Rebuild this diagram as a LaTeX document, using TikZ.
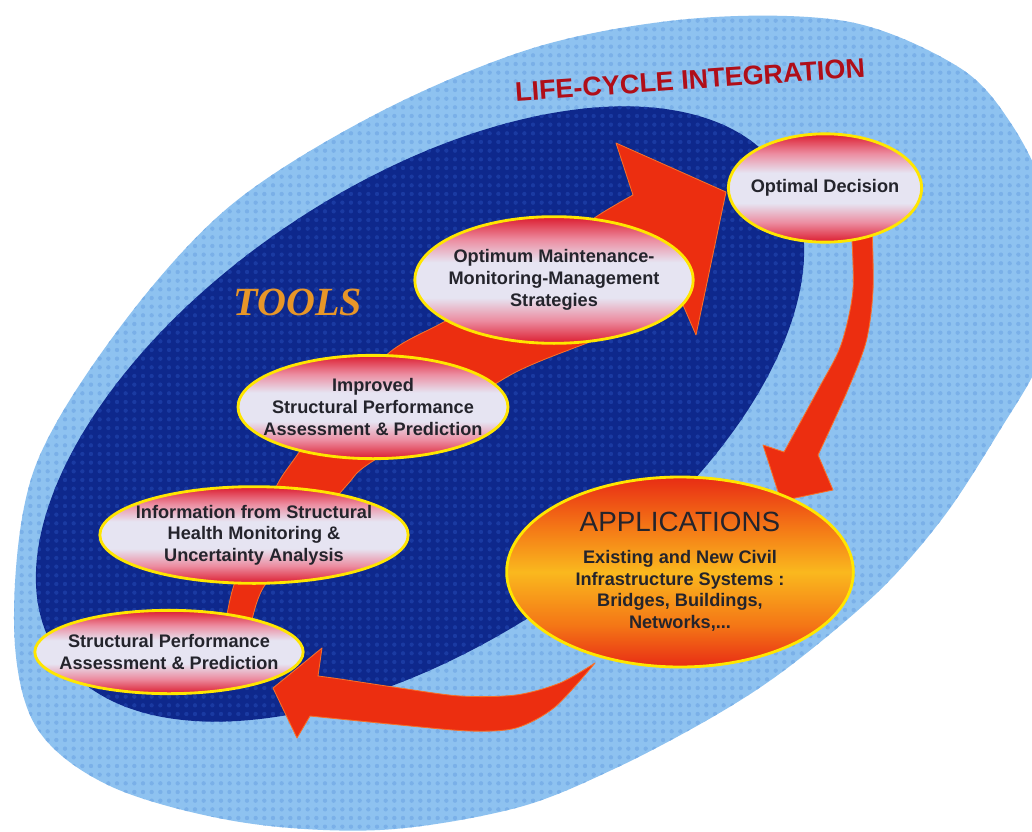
\documentclass[tikz,border=0pt]{standalone}
\usepackage{fontspec}
\setmainfont{Liberation Sans}
\newfontfamily\toolsfont{Liberation Serif}
\usepackage{xcolor}
\usepackage{tikz}
\usetikzlibrary{shapes.geometric,patterns}

\definecolor{skyblue}{RGB}{142,194,240}
\definecolor{skydot}{RGB}{122,176,232}
\definecolor{navyblue}{RGB}{14,40,140}
\definecolor{navydot}{RGB}{26,58,162}
\definecolor{arrowred}{RGB}{236,46,16}
\definecolor{arrowrim}{RGB}{248,112,40}
\definecolor{ovalred}{RGB}{220,28,46}
\definecolor{ovalpink}{RGB}{236,140,160}
\definecolor{ovalmid}{RGB}{230,228,242}
\definecolor{ovalrim}{RGB}{255,230,0}
\definecolor{appred}{RGB}{232,44,20}
\definecolor{apporange}{RGB}{244,118,22}
\definecolor{appyellow}{RGB}{250,184,30}
\definecolor{titlered}{RGB}{176,14,24}
\definecolor{toolsorange}{RGB}{232,150,40}
\definecolor{labelgray}{RGB}{36,36,44}

\pgfdeclareverticalshading{ovalshade}{100bp}{color(0bp)=(ovalred); color(25bp)=(ovalred); color(34bp)=(ovalpink); color(43bp)=(ovalmid); color(57bp)=(ovalmid); color(66bp)=(ovalpink); color(75bp)=(ovalred); color(100bp)=(ovalred)}
\pgfdeclareverticalshading{appshade}{100bp}{color(0bp)=(appred); color(25bp)=(appred); color(36bp)=(apporange); color(50bp)=(appyellow); color(62bp)=(apporange); color(75bp)=(appred); color(100bp)=(appred)}
\pgfdeclarepatternformonly{bluedots}{\pgfqpoint{-1pt}{-1pt}}{\pgfqpoint{6pt}{6pt}}{\pgfqpoint{5.2pt}{5.2pt}}{\pgfpathcircle{\pgfqpoint{2.6pt}{2.6pt}}{1.3pt}\pgfusepath{fill}}

\tikzset{
  stage/.style={ellipse, draw=ovalrim, line width=1.7pt, shade, shading=ovalshade, inner sep=-120pt, text=labelgray, align=center, font=\bfseries\fontsize{10.9}{13}\selectfont},
  bigarrow/.style={fill=arrowred, draw=arrowrim, line width=0.5pt, line join=round},
}

\begin{document}
\begin{tikzpicture}[x=0.6pt,y=-0.6pt]
\path[use as bounding box, fill=white] (0,0) rectangle (1032,831);
\clip (0,0) rectangle (1032,831);

% life-cycle field
\fill[skyblue, postaction={pattern=bluedots, pattern color=skydot}] plot[smooth cycle, tension=0.55] coordinates {(14,620) (34,470) (118,330) (230,206) (380,112) (540,46) (700,18) (850,22) (960,68) (1012,125) (1048,200) (1060,280) (1040,360) (1000,430) (945,515) (880,590) (790,666) (716,715) (616,768) (516,808) (380,830) (240,822) (110,786) (35,725)};
% tools field
\begin{scope}[shift={(420,414)}, rotate=33.6]
\fill[navyblue, postaction={pattern=bluedots, pattern color=navydot}] (0,0) ellipse [x radius=261pt, y radius=138pt];
\end{scope}

% arrows
\path[bigarrow] plot[smooth] coordinates {(226,620) (233,588) (252,535) (277,485) (290,465) (330,412) (390,352) (440,324) (500,292) (560,250) (593,219) (633,195)} -- (616,143) -- (726,192) -- (696,335) -- (683,305) -- plot[smooth] coordinates {(683,305) (600,338) (516,372) (440,420) (367,465) (347,485) (300,540) (263,588) (252,620)} -- cycle;
\path[bigarrow] plot[smooth] coordinates {(851,225) (853,290) (841,345) (819,388) (784,452)} -- (763,445) -- (781,501) -- (833,490) -- (818,455) -- plot[smooth] coordinates {(818,455) (846,394) (866,342) (873,290) (872,225)} -- cycle;
\path[bigarrow] plot[smooth] coordinates {(595,663) (560,683) (516,695) (460,696) (400,688) (340,679) (318,676)} -- (322,648) -- (273,688) -- (297,738) -- (310,716) -- plot[smooth] coordinates {(310,716) (400,725) (470,731) (516,728) (555,707) (595,663)} -- cycle;

\node[stage, minimum width=116pt, minimum height=65pt] (od) at (825,188) {Optimal Decision};
\node[stage, minimum width=167pt, minimum height=76pt] (omm) at (554,280) {Optimum Maintenance-\\Monitoring-Management\\Strategies};
\node[stage, minimum width=162pt, minimum height=62pt] (isp) at (373,407) {Improved\\Structural Performance\\Assessment \& Prediction};
\node[stage, minimum width=185pt, minimum height=58pt] (shm) at (254,535) {Information from Structural\\Health Monitoring \&\\Uncertainty Analysis};
\node[stage, minimum width=161pt, minimum height=50pt] (spa) at (169,652) {Structural Performance\\Assessment \& Prediction};
\node[stage, shading=appshade, minimum width=208pt, minimum height=114pt] (app) at (680,572) {{\mdseries\fontsize{16.7}{20}\selectfont APPLICATIONS}\\[6pt]Existing and New Civil\\Infrastructure Systems :\\Bridges, Buildings,\\Networks,...};

\node[text=titlered, rotate=4, font=\bfseries\fontsize{16.2}{19}\selectfont] (lci) at (690,80) {LIFE-CYCLE INTEGRATION};
\node[text=toolsorange, font=\toolsfont\bfseries\itshape\fontsize{24}{28}\selectfont] (tools) at (298,302) {TOOLS};
\end{tikzpicture}
\end{document}
